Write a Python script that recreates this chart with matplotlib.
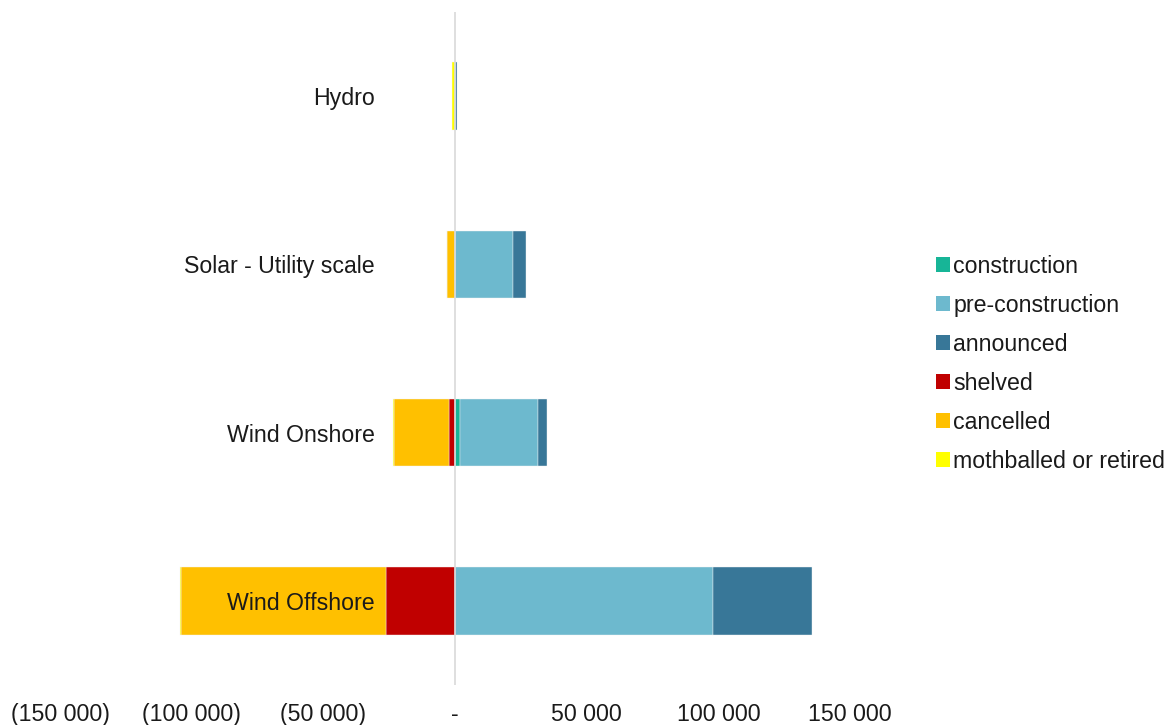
import matplotlib
matplotlib.use("Agg")
import matplotlib.pyplot as plt
import numpy as np

plt.rcParams['font.family'] = ['Liberation Sans', 'DejaVu Sans']

# Technologies, listed top to bottom
technologies = ["Hydro", "Solar - Utility scale", "Wind Onshore", "Wind Offshore"]

# Capacity by project status (positive side)
construction = [0, 0, 1900, 0]
pre_construction = [0, 22200, 29800, 98100]
announced = [700, 4600, 3200, 37300]

# Capacity by project status (negative side, stored as magnitudes)
shelved = [0, 0, 2200, 26100]
cancelled = [0, 3200, 21000, 78100]
mothballed = [1200, 0, 300, 400]

tick_values = [-150000, -100000, -50000, 0, 50000, 100000, 150000]
tick_labels = ["(150 000)", "(100 000)", "(50 000)", "-", "50 000", "100 000", "150 000"]

colors = {
    "construction": "#17B597",
    "pre-construction": "#6DB9CE",
    "announced": "#387798",
    "shelved": "#C00000",
    "cancelled": "#FFC000",
    "mothballed or retired": "#FFFF00",
}

FS = 16.7
TXT = "#1a1a1a"

fig = plt.figure(figsize=(11.73, 7.25), dpi=100)
ax = fig.add_axes([60 / 1173, 1 - 685 / 725, (850 - 60) / 1173, (685 - 12) / 725])

y = np.arange(len(technologies))[::-1]
h = 0.4
ekw = dict(edgecolor="#F2F2F2", linewidth=0.3, height=h, zorder=3)

c = np.array(construction, float)
p = np.array(pre_construction, float)
a = np.array(announced, float)
s = np.array(shelved, float)
k = np.array(cancelled, float)
m = np.array(mothballed, float)

bars = {}
bars["construction"] = ax.barh(y, c, left=0, color=colors["construction"], **ekw)
bars["pre-construction"] = ax.barh(y, p, left=c, color=colors["pre-construction"], **ekw)
bars["announced"] = ax.barh(y, a, left=c + p, color=colors["announced"], **ekw)
bars["shelved"] = ax.barh(y, -s, left=0, color=colors["shelved"], **ekw)
bars["cancelled"] = ax.barh(y, -k, left=-s, color=colors["cancelled"], **ekw)
bars["mothballed or retired"] = ax.barh(y, -m, left=-s - k, color=colors["mothballed or retired"], **ekw)

ax.axvline(0, color="#D9D9D9", linewidth=1.2, zorder=4)

for yi, name in zip(y, technologies):
    ax.text(-30500, yi, name, ha="right", va="center_baseline", fontsize=FS,
            color=TXT, zorder=5)

ax.set_xlim(-150000, 150000)
ax.set_ylim(-0.5, len(technologies) - 0.5)
ax.set_xticks(tick_values)
ax.set_xticklabels(tick_labels, fontsize=FS, color=TXT)
ax.set_yticks([])
ax.tick_params(axis="x", length=0, pad=13)
for sp in ax.spines.values():
    sp.set_visible(False)

handles = [bars[key] for key in colors]
leg = fig.legend(handles, list(colors.keys()), loc="center left",
                 bbox_to_anchor=(936 / 1173, 1 - 364 / 725), frameon=False,
                 fontsize=FS, handlelength=0.6, handleheight=0.6,
                 handletextpad=0.15, labelspacing=0.69, borderaxespad=0,
                 borderpad=0)
for t in leg.get_texts():
    t.set_color(TXT)
for hd in leg.legend_handles:
    hd.set_edgecolor("none")

fig.savefig("out.png", dpi=100)
